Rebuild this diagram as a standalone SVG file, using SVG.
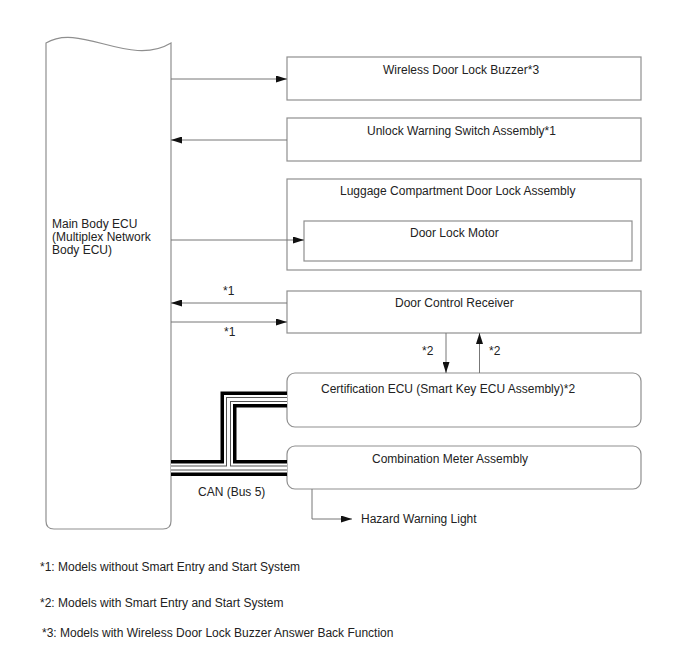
<svg xmlns="http://www.w3.org/2000/svg" width="688" height="658" viewBox="0 0 688 658">
<style>
text{font-family:"Liberation Sans",Arial,sans-serif;font-size:12px;fill:#222}
.box{fill:#fff;stroke:#8f8f8f;stroke-width:1.2}
.ln{fill:none;stroke:#777;stroke-width:1}
</style>
<defs>
<marker id="ah" markerWidth="11" markerHeight="7" refX="11" refY="3.5" orient="auto" markerUnits="userSpaceOnUse">
<path d="M0,0 L11,3.5 L0,7 z" fill="#111"/>
</marker>
</defs>
<rect width="688" height="658" fill="#fff"/>

<g id="main-ecu">
<path class="box" d="M46,43 C80,22 130,68 171,43 V521 Q171,529 163,529 H54 Q46,529 46,521 Z"/>
<text x="52" y="228">Main Body ECU</text>
<text x="52" y="241">(Multiplex Network</text>
<text x="52" y="254">Body ECU)</text>
</g>

<g id="buzzer">
<rect class="box" x="287" y="57" width="354" height="43"/>
<text x="383" y="74">Wireless Door Lock Buzzer*3</text>
</g>

<g id="unlock-switch">
<rect class="box" x="287" y="118" width="354" height="43"/>
<text x="367" y="135">Unlock Warning Switch Assembly*1</text>
</g>

<g id="luggage">
<rect class="box" x="287" y="179" width="354" height="91"/>
<text x="340" y="195">Luggage Compartment Door Lock Assembly</text>
</g>

<g id="door-lock-motor">
<rect class="box" x="304" y="221" width="328" height="40"/>
<text x="410" y="237">Door Lock Motor</text>
</g>

<g id="door-control-receiver">
<rect class="box" x="287" y="291" width="354" height="42"/>
<text x="395" y="307">Door Control Receiver</text>
</g>

<g id="certification-ecu">
<rect class="box" x="287" y="373" width="354" height="54" rx="8"/>
<text x="321" y="393">Certification ECU (Smart Key ECU Assembly)*2</text>
</g>

<g id="combination-meter">
<rect class="box" x="287" y="446" width="354" height="43" rx="8"/>
<text x="372" y="463">Combination Meter Assembly</text>
</g>

<g id="hazard">
<text x="361" y="523">Hazard Warning Light</text>
</g>

<g id="connectors">
<line class="ln" x1="171" y1="79" x2="287" y2="79" marker-end="url(#ah)"/>
<line class="ln" x1="287" y1="140" x2="171" y2="140" marker-end="url(#ah)"/>
<line class="ln" x1="171" y1="240" x2="304" y2="240" marker-end="url(#ah)"/>
<line class="ln" x1="287" y1="303" x2="171" y2="303" marker-end="url(#ah)"/>
<line class="ln" x1="171" y1="322" x2="287" y2="322" marker-end="url(#ah)"/>
<line class="ln" x1="446" y1="333" x2="446" y2="373" marker-end="url(#ah)"/>
<line class="ln" x1="479.5" y1="373" x2="479.5" y2="333" marker-end="url(#ah)"/>
<path class="ln" d="M312,489 V519 H352" marker-end="url(#ah)"/>
<g fill="none" stroke-linejoin="miter">
<path d="M171,468 H287 M228.5,468 V399.5 H287" stroke="#000" stroke-width="16"/>
<path d="M171,468 H287 M228.5,468 V399.5 H287" stroke="#fff" stroke-width="9"/>
<path d="M171,468 H287 M228.5,468 V399.5 H287" stroke="#555" stroke-width="5"/>
<path d="M171,468 H287 M228.5,468 V399.5 H287" stroke="#fff" stroke-width="3"/>
</g>
<text x="223" y="295">*1</text>
<text x="224" y="336">*1</text>
<text x="422" y="355">*2</text>
<text x="489" y="355">*2</text>
<text x="198" y="496">CAN (Bus 5)</text>
</g>

<g id="notes">
<text x="40" y="571">*1: Models without Smart Entry and Start System</text>
<text x="40" y="607">*2: Models with Smart Entry and Start System</text>
<text x="42" y="637">*3: Models with Wireless Door Lock Buzzer Answer Back Function</text>
</g>
</svg>
